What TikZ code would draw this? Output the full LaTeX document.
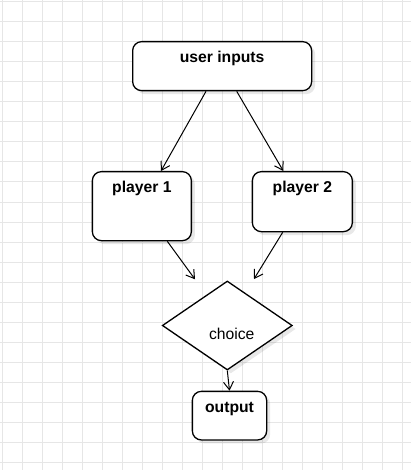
\documentclass[tikz,border=0pt]{standalone}
\usepackage{fontspec}
\setmainfont{Liberation Sans}
\usetikzlibrary{shapes.geometric,arrows.meta,shadows}
\definecolor{gridc}{HTML}{E6E6E6}
\tikzset{
  boxshadow/.style={drop shadow={shadow xshift=3.5pt,shadow yshift=-3.5pt,fill=black,opacity=0.09}},
  box/.style={draw=black,line width=1.3pt,rounded corners=9pt,fill=white,boxshadow,
    inner sep=0pt,anchor=north west,font=\fontsize{15.7pt}{19pt}\selectfont\bfseries,
    text height=21pt},
  dia/.style={draw=black,line width=1.3pt,diamond,fill=white,boxshadow,inner sep=0pt,
    minimum width=130pt,minimum height=89pt},
  conn/.style={line width=1pt,-{Straight Barb[length=8pt,width=10pt,line width=1pt]}},
}
\begin{document}
\begin{tikzpicture}[x=1pt,y=-1pt]
\useasboundingbox (0,0) rectangle (411,470);
\fill[white] (0,0) rectangle (411,470);
\foreach \gx in {2,22,...,402} \draw[gridc,line width=1pt] (\gx,0) -- (\gx,470);
\foreach \gy in {2,22,...,462} \draw[gridc,line width=1pt] (0,\gy) -- (411,\gy);

\node[box,minimum width=179pt,text depth=28pt] (ui) at (132,41) {user inputs};
\node[box,minimum width=99pt,text depth=48pt] (p1) at (91.7,171) {player 1};
\node[box,minimum width=100pt,text depth=39pt] (p2) at (251.7,171) {player 2};
\node[dia] (ch) at (227.3,325.5) {};
\node[font=\fontsize{15.7pt}{19pt}\selectfont,inner sep=0pt] (chl) at (231.7,333.5) {choice};
\node[box,minimum width=74.3pt,text depth=27.6pt] (out) at (191.7,390.7) {output};

\coordinate (e1) at ([shift={(-32.3,-46.2)}]ch.center);
\coordinate (e2) at ([shift={(26.7,-46.5)}]ch.center);

\draw[conn] ([xshift=74pt]ui.south west) -- ([xshift=69.3pt]p1.north west);
\draw[conn] ([xshift=104.7pt]ui.south west) -- ([xshift=31.6pt]p2.north west);
\draw[conn] ([xshift=75.6pt]p1.south west) -- (e1);
\draw[conn] ([xshift=31pt]p2.south west) -- (e2);
\draw[conn] (ch.south) -- (out.north);
\end{tikzpicture}
\end{document}
